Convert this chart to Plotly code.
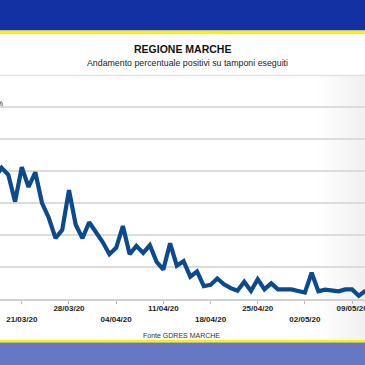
import pandas as pd
import plotly.graph_objects as go

# ---- data ----
dates = pd.date_range("2020-03-17", "2020-05-11", freq="D")
positivi_pct = [18.9, 20.5, 19.4, 15.2, 20.6, 17.5, 19.8, 15.0, 12.7, 9.5,
                10.8, 17.0, 11.6, 9.5, 12.0, 10.5, 8.9, 7.0, 8.0, 11.4,
                7.0, 8.3, 7.2, 8.4, 5.8, 4.6, 8.7, 5.2, 5.9, 3.5,
                4.3, 2.0, 2.2, 3.2, 2.3, 1.7, 1.3, 2.7, 1.25, 3.1,
                1.5, 2.45, 1.5, 1.5, 1.5, 1.25, 1.0, 4.1, 1.2, 1.45,
                1.3, 1.2, 1.5, 1.5, 0.5, 1.3]
tick_dates = pd.date_range("2020-03-21", "2020-05-09", freq="7D")
tick_labels = [d.strftime("%d/%m/%y") for d in tick_dates]
y_ticks = [0, 5, 10, 15, 20, 25, 30]

W = H = 365
def py(p):  # pixel from top -> paper y
    return 1 - p / H

# x range so that 21/03 sits at ~21.8px with 6.74px per day
ref = pd.Timestamp("2020-03-21")
px_day = 6.74
x0 = ref - pd.Timedelta(days=21.8 / px_day)
x1 = ref + pd.Timedelta(days=(W - 21.8) / px_day)

# staggered tick text
ticktext = [("<br>" + t) if i % 2 == 0 else t for i, t in enumerate(tick_labels)]

fig = go.Figure()
fig.add_trace(go.Scatter(
    x=dates, y=positivi_pct, mode="lines",
    line=dict(color="#0b4a8c", width=4.2), hoverinfo="skip", showlegend=False))

shapes = []
# right-side grey gradient
n = 14
for i in range(n):
    xa = 318 + i * (47 / n)
    shapes.append(dict(type="rect", xref="paper", yref="paper",
                       x0=xa / W, x1=1, y0=py(340), y1=py(76),
                       fillcolor="#d8d8d8", opacity=0.03, line=dict(width=0), layer="below"))
# thin grey line under subtitle
shapes.append(dict(type="line", xref="paper", yref="paper", x0=0, x1=1,
                   y0=py(75.5), y1=py(75.5), line=dict(color="#e2e2e2", width=1.5), layer="below"))
# header
shapes.append(dict(type="rect", xref="paper", yref="paper", x0=0, x1=1,
                   y0=py(30.5), y1=1, fillcolor="#1331a3", line=dict(width=0)))
shapes.append(dict(type="rect", xref="paper", yref="paper", x0=0, x1=1,
                   y0=py(34), y1=py(30.5), fillcolor="#fff200", line=dict(width=0)))
# footer
shapes.append(dict(type="rect", xref="paper", yref="paper", x0=0, x1=1,
                   y0=py(342.5), y1=py(340), fillcolor="#fff200", line=dict(width=0)))
shapes.append(dict(type="rect", xref="paper", yref="paper", x0=0, x1=1,
                   y0=0, y1=py(342.5), fillcolor="#6677c3", line=dict(width=0)))

font = "Liberation Sans, Arial, sans-serif"
annotations = [
    dict(text="<b>REGIONE MARCHE</b>", x=182 / W, y=py(49), xref="paper", yref="paper",
         showarrow=False, font=dict(family=font, size=10.5, color="#111"),
         xanchor="center", yanchor="middle"),
    dict(text="Andamento percentuale positivi su tamponi eseguiti", x=187 / W, y=py(62.5),
         xref="paper", yref="paper", showarrow=False,
         font=dict(family=font, size=8.8, color="#222"), xanchor="center", yanchor="middle"),
    dict(text="Fonte GDRES MARCHE", x=181 / W, y=py(335), xref="paper", yref="paper",
         showarrow=False, font=dict(family=font, size=7, color="#333"),
         xanchor="center", yanchor="middle"),
    dict(text="30%", x=5 / W, y=py(103), xref="paper", yref="paper", showarrow=False,
         font=dict(family=font, size=8, color="#333"), xanchor="right", yanchor="middle"),
]

top_px = 103
fig.update_layout(
    width=W, height=H, margin=dict(l=0, r=0, t=0, b=0, autoexpand=False),
    paper_bgcolor="white", plot_bgcolor="rgba(0,0,0,0)",
    shapes=shapes, annotations=annotations,
    xaxis=dict(domain=[0, 1], range=[x0, x1], tickvals=tick_dates, ticktext=ticktext,
               automargin=False, ticklabeloverflow="allow", ticklabelstandoff=-2,
               showgrid=False, zeroline=False, showline=True, linecolor="#d0d0d0", linewidth=1.5,
               ticks="outside", ticklen=3, tickcolor="#b8b8b8",
               tickfont=dict(family=font, size=8, color="#222", weight="bold"),
               fixedrange=True),
    yaxis=dict(domain=[py(299), py(top_px)], range=[0, (299 - top_px) / 32 * 5],
               automargin=False,
               tickvals=y_ticks, showticklabels=False, showgrid=True,
               gridcolor="#dcdcdc", gridwidth=1.5, zeroline=False, fixedrange=True),
)

fig.write_html(
    "out.html",
    config={"displayModeBar": False},
    post_script="document.body.style.margin='0';document.body.style.overflow='hidden';",
)
